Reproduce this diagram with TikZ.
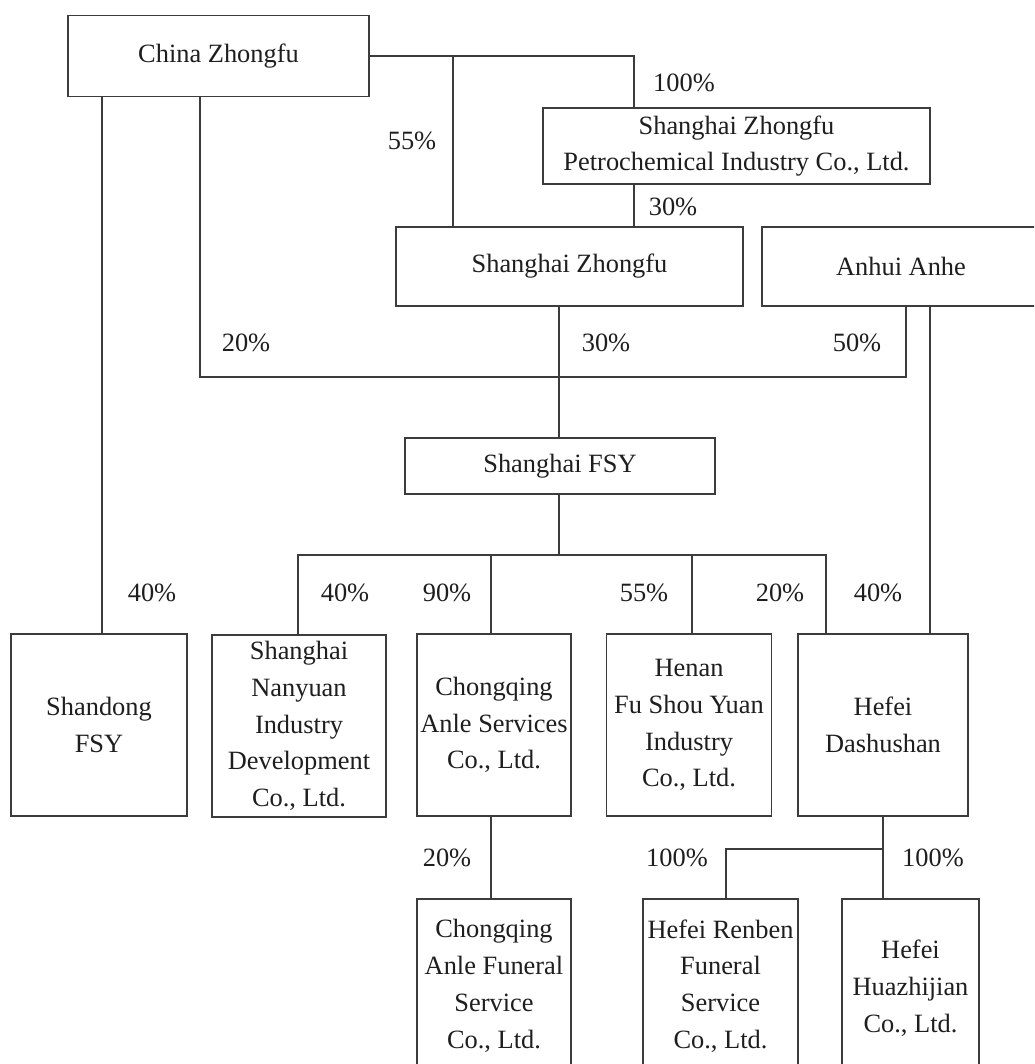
\documentclass[tikz,border=0pt]{standalone}
\usepackage{fontspec}
\setmainfont{Liberation Serif}
\begin{document}
\begin{tikzpicture}[x=1pt,y=-1pt,
  box/.style={draw=linegray, line width=1.3pt, rectangle, inner sep=0pt, align=center,
    text=textgray, font=\fontsize{26.4}{36.8}\selectfont},
  ln/.style={draw=linegray, line width=1.3pt},
  pct/.style={text=textgray, font=\fontsize{26.4}{32}\selectfont, inner sep=0pt}]
\definecolor{linegray}{HTML}{3C3C3C}
\definecolor{textgray}{HTML}{1E1E1E}
\useasboundingbox (0,0) rectangle (1034,1064);
\clip (0,0) rectangle (1034,1064);
\fill[white] (0,0) rectangle (1034,1064);
% boxes
\node[box, minimum width=301pt, minimum height=81pt] (cz) at (218.5,56) {China Zhongfu};
\node[box, minimum width=387pt, minimum height=76pt] (pc) at (736.5,146) {Shanghai Zhongfu\\Petrochemical Industry Co., Ltd.};
\node[box, minimum width=347pt, minimum height=79pt] (sz) at (569.5,266.5) {Shanghai Zhongfu};
\node[box, minimum width=278pt, minimum height=79pt] (aa) at (901,266.5) {Anhui Anhe};
\node[box, minimum width=310pt, minimum height=56pt] (fsy) at (560,466) {Shanghai FSY};
\node[box, minimum width=176pt, minimum height=182pt] (sd) at (99,725) {Shandong\\FSY};
\node[box, minimum width=174pt, minimum height=182pt] (ny) at (299,726) {Shanghai\\Nanyuan\\Industry\\Development\\Co., Ltd.};
\node[box, minimum width=154pt, minimum height=182pt] (cas) at (494,725) {Chongqing\\Anle Services\\Co., Ltd.};
\node[box, minimum width=165pt, minimum height=182pt] (hn) at (689,725) {Henan\\Fu Shou Yuan\\Industry\\Co., Ltd.};
\node[box, minimum width=170pt, minimum height=182pt] (hd) at (883,725) {Hefei\\Dashushan};
\node[box, minimum width=154pt, minimum height=174pt] (caf) at (494,986) {Chongqing\\Anle Funeral\\Service\\Co., Ltd.};
\node[box, minimum width=155pt, minimum height=174pt] (rb) at (720.5,986) {Hefei Renben\\Funeral\\Service\\Co., Ltd.};
\node[box, minimum width=137pt, minimum height=178pt] (hz) at (910.5,988) {Hefei\\Huazhijian\\Co., Ltd.};
% helper coordinates
\coordinate (x634) at (634,0);
\coordinate (x453) at (453,0);
\coordinate (x102) at (102,0);
\coordinate (x200) at (200,0);
\coordinate (k20) at (906,377);
\coordinate (x559) at (559,0);
\coordinate (x930) at (930,0);
\coordinate (bus) at (559,555);
\coordinate (x298) at (298,0);
\coordinate (x491) at (491,0);
\coordinate (x692) at (692,0);
\coordinate (x826) at (826,0);
\coordinate (x883) at (883,0);
\coordinate (k100) at (726,849);
% connectors
\draw[ln] (cz.east) -| (x634 |- pc.north);
\draw[ln] (cz.east -| x453) -- (x453 |- sz.north);
\draw[ln] (x634 |- pc.south) -- (x634 |- sz.north);
\draw[ln] (x102 |- cz.south) -- (x102 |- sd.north);
\draw[ln] (x200 |- cz.south) |- (k20) -- (k20 |- aa.south);
\draw[ln] (x559 |- sz.south) -- (x559 |- fsy.north);
\draw[ln] (x930 |- aa.south) -- (x930 |- hd.north);
\draw[ln] (bus |- fsy.south) -- (bus);
\draw[ln] (x298 |- ny.north) |- (bus -| x826) -- (x826 |- hd.north);
\draw[ln] (bus -| x491) -- (x491 |- cas.north);
\draw[ln] (bus -| x692) -- (x692 |- hn.north);
\draw[ln] (x491 |- cas.south) -- (x491 |- caf.north);
\draw[ln] (x883 |- hd.south) -- (x883 |- hz.north);
\draw[ln] (k100 -| x883) -- (k100) -- (k100 |- rb.north);
% labels
\node[pct] (l1) at (684,83) {100\%};
\node[pct] (l2) at (412,141) {55\%};
\node[pct] (l3) at (673,207) {30\%};
\node[pct] (l4) at (246,343) {20\%};
\node[pct] (l5) at (606,343) {30\%};
\node[pct] (l6) at (857,343) {50\%};
\node[pct] (l7) at (152,593) {40\%};
\node[pct] (l8) at (345,593) {40\%};
\node[pct] (l9) at (447,593) {90\%};
\node[pct] (l10) at (644,593) {55\%};
\node[pct] (l11) at (780,593) {20\%};
\node[pct] (l12) at (878,593) {40\%};
\node[pct] (l13) at (447,858) {20\%};
\node[pct] (l14) at (677,858) {100\%};
\node[pct] (l15) at (933,858) {100\%};
\end{tikzpicture}
\end{document}
